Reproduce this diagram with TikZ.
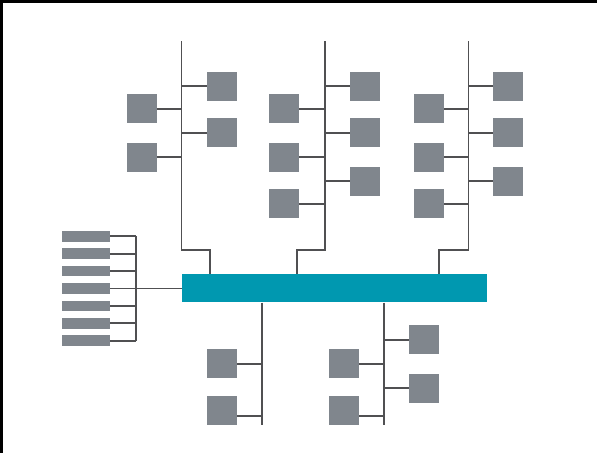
\documentclass[tikz,border=0pt]{standalone}
\usetikzlibrary{calc}
\definecolor{hostgray}{RGB}{128,134,141}
\definecolor{wiregray}{RGB}{80,80,82}
\definecolor{busteal}{RGB}{0,152,176}
\begin{document}
\begin{tikzpicture}[x=1pt, y=-1pt,
    host/.style={rectangle, fill=hostgray, minimum width=30pt, minimum height=29pt, inner sep=0pt},
    slot/.style={rectangle, fill=hostgray, minimum width=48pt, minimum height=10.5pt, inner sep=0pt},
    wire/.style={draw=wiregray, line width=1.8pt}]
    \useasboundingbox (0,0) rectangle (597,453);
    % Frame
    \fill[black] (0,0) rectangle (597,3);
    \fill[black] (0,0) rectangle (3,453);

    % Backbone
    \node[rectangle, fill=busteal, minimum width=304.7pt, minimum height=28.6pt, inner sep=0pt] (bus) at (334.6,288) {};

    % Top trees
    \coordinate (t1top) at (181.5,41);
    \coordinate (t1jog) at (210,249.7);
    \coordinate (t2top) at (325.3,41);
    \coordinate (t2jog) at (296.7,249.7);
    \coordinate (t3top) at (468.5,41);
    \coordinate (t3jog) at (439.3,249.7);
    \draw[wire] (t1top) |- (t1jog) -- (t1jog |- bus.north);
    \draw[wire] (t2top) |- (t2jog) -- (t2jog |- bus.north);
    \draw[wire] (t3top) |- (t3jog) -- (t3jog |- bus.north);

    \node[host] (t1l1) at (141.7,108.8) {};
    \node[host] (t1l2) at (141.7,157.2) {};
    \node[host] (t1r1) at (222,86.3) {};
    \node[host] (t1r2) at (222,132.8) {};
    \draw[wire] (t1l1) -- (t1l1 -| t1top);
    \draw[wire] (t1l2) -- (t1l2 -| t1top);
    \draw[wire] (t1r1) -- (t1r1 -| t1top);
    \draw[wire] (t1r2) -- (t1r2 -| t1top);

    \foreach \t/\lx/\rx in {2/284.2/365, 3/429/508} {
        \foreach \i/\ly/\ry in {1/108.8/86.3, 2/157.2/132.8, 3/203.7/181.2} {
            \node[host] (t\t l\i) at (\lx,\ly) {};
            \node[host] (t\t r\i) at (\rx,\ry) {};
            \draw[wire] (t\t l\i) -- (t\t l\i -| t\t top);
            \draw[wire] (t\t r\i) -- (t\t r\i -| t\t top);
        }
    }

    % Bottom trees
    \coordinate (t4bot) at (262.3,424.7);
    \coordinate (t5bot) at (384.3,424.7);
    \draw[wire] (t4bot |- bus.south) -- (t4bot);
    \draw[wire] (t5bot |- bus.south) -- (t5bot);

    \node[host] (t4l1) at (222,363.8) {};
    \node[host] (t4l2) at (222,410.5) {};
    \draw[wire] (t4l1) -- (t4l1 -| t4bot);
    \draw[wire] ([yshift=-5.2pt]t4l2.east) -- ([yshift=-5.2pt]t4l2.east -| t4bot);

    \node[host] (t5l1) at (343.8,363.8) {};
    \node[host] (t5l2) at (343.8,410.5) {};
    \node[host] (t5r1) at (424,339.8) {};
    \node[host] (t5r2) at (424,388) {};
    \draw[wire] (t5l1) -- (t5l1 -| t5bot);
    \draw[wire] ([yshift=-5.2pt]t5l2.east) -- ([yshift=-5.2pt]t5l2.east -| t5bot);
    \draw[wire] (t5r1) -- (t5r1 -| t5bot);
    \draw[wire] (t5r2) -- (t5r2 -| t5bot);

    % Rack on the left
    \coordinate (rail) at (136,288);
    \foreach \i in {1,...,7} {
        \node[slot] (r\i) at (85.8,{236.3+(\i-1)*17.4}) {};
        \draw[wire] (r\i.east) -- (r\i.east -| rail);
    }
    \draw[wire] (r1.east -| rail) -- (r7.east -| rail);
    \draw[wire] (r4.east) -- (r4.east -| bus.west);
\end{tikzpicture}
\end{document}
